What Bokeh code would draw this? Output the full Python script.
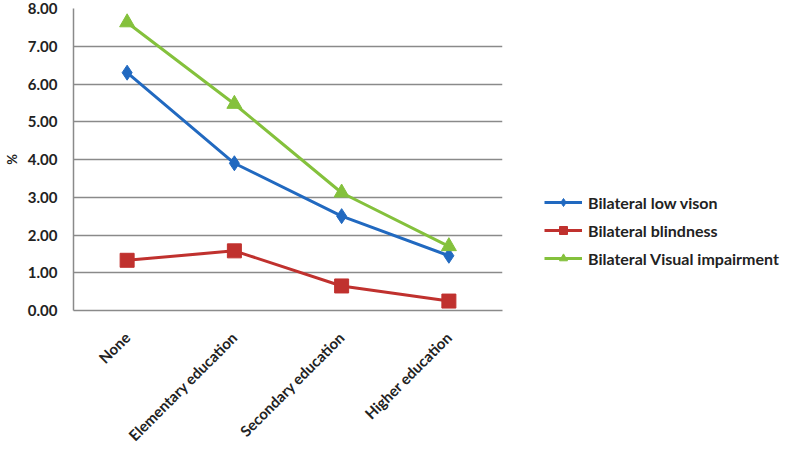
import math
from bokeh.plotting import figure
from bokeh.models import FactorRange, Legend, LegendItem, NumeralTickFormatter, FixedTicker
from bokeh.embed import file_html
from bokeh.resources import INLINE

categories = ["None", "Elementary education", "Secondary education", "Higher education"]
low_vision = [6.30, 3.90, 2.50, 1.45]
blindness = [1.33, 1.58, 0.65, 0.25]
visual_impairment = [7.63, 5.47, 3.12, 1.70]
series_names = ["Bilateral low vison", "Bilateral blindness", "Bilateral Visual impairment"]
y_ticks = [0, 1, 2, 3, 4, 5, 6, 7, 8]

FONT = "Lato"
TXT = "#222222"

p = figure(x_range=FactorRange(*categories), y_range=(0, 8),
           frame_width=429, frame_height=302, output_backend="svg",
           toolbar_location=None, min_border_left=60, min_border_right=290,
           min_border_top=8, min_border_bottom=0)
p.outline_line_color = None
p.background_fill_color = "white"

r1 = p.line(categories, low_vision, line_color="#2169c0", line_width=3)
m1 = p.scatter(categories, low_vision, marker="diamond", size=15, fill_color="#2169c0", line_color="#2169c0")
r2 = p.line(categories, blindness, line_color="#c0312e", line_width=3)
m2 = p.scatter(categories, blindness, marker="square", size=14, fill_color="#c0312e", line_color="#c0312e")
r3 = p.line(categories, visual_impairment, line_color="#84c13c", line_width=3)
m3 = p.scatter(categories, visual_impairment, marker="triangle", size=15, fill_color="#84c13c", line_color="#84c13c")

p.xgrid.grid_line_color = None
p.ygrid.grid_line_color = "#8a8a8a"
p.ygrid.grid_line_width = 1.5
p.yaxis.ticker = FixedTicker(ticks=y_ticks)
p.yaxis.formatter = NumeralTickFormatter(format="0.00")
p.yaxis.axis_label = "%"
p.yaxis.axis_label_text_font_style = "bold"
p.yaxis.axis_label_text_font_size = "13px"
p.yaxis.axis_label_text_font = FONT
p.yaxis.axis_label_text_color = TXT
p.yaxis.axis_label_standoff = 5

for ax in (p.xaxis[0], p.yaxis[0]):
    ax.axis_line_color = "#8a8a8a"
    ax.axis_line_width = 1.5
    ax.major_tick_line_color = None
    ax.minor_tick_line_color = None
    ax.major_label_text_font = FONT
    ax.major_label_text_font_style = "bold"
    ax.major_label_text_color = TXT

p.yaxis.major_label_text_font_size = "15px"
p.xaxis.major_label_text_font_size = "15px"
p.yaxis.major_label_standoff = 10
p.xaxis.major_label_orientation = math.pi / 4
p.xaxis.major_label_standoff = 18

legend = Legend(items=[
    LegendItem(label=series_names[0], renderers=[r1, m1]),
    LegendItem(label=series_names[1], renderers=[r2, m2]),
    LegendItem(label=series_names[2], renderers=[r3, m3]),
], location=(42, 42))
legend.border_line_color = None
legend.background_fill_alpha = 0
legend.padding = 0
legend.margin = 0
legend.glyph_width = 38
legend.glyph_height = 20
legend.label_standoff = 6
legend.spacing = 8
legend.label_text_font = FONT
legend.label_text_font_size = "16px"
legend.label_text_font_style = "bold"
legend.label_text_color = TXT
p.add_layout(legend, "right")

open("out.html", "w").write(file_html(p, INLINE))
